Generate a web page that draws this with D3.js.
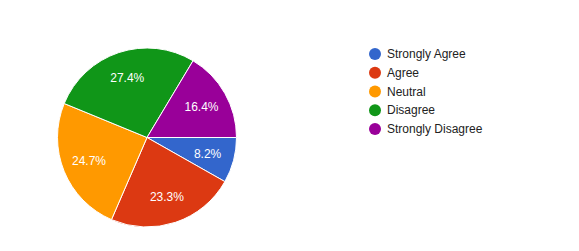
<!DOCTYPE html>
<html>
<head>
<meta charset="utf-8">
<script src="https://cdn.jsdelivr.net/npm/d3@7"></script>
<style>
  body { margin: 0; background: #fff; }
  svg { font-family: Arial, "Liberation Sans", sans-serif; }
</style>
</head>
<body>
<svg id="chart" width="579" height="251"></svg>
<script>
var categories = ["Strongly Agree", "Agree", "Neutral", "Disagree", "Strongly Disagree"];
var values = [8.2, 23.3, 24.7, 27.4, 16.4];
var colors = ["#3366cc", "#dc3912", "#ff9900", "#109618", "#990099"];

var svg = d3.select("#chart"),
    cx = 147, cy = 137.5, radius = 89.5;

var data = categories.map(function(c, i) { return {name: c, value: values[i]}; });

var color = d3.scaleOrdinal().domain(categories).range(colors);

// google style: start at 3 o'clock, clockwise
var pie = d3.pie()
    .value(function(d) { return d.value; })
    .sort(null)
    .startAngle(Math.PI / 2)
    .endAngle(Math.PI / 2 + 2 * Math.PI);

var arc = d3.arc().innerRadius(0).outerRadius(radius);
var labelArc = d3.arc().innerRadius(radius * 0.7).outerRadius(radius * 0.7);

var g = svg.append("g")
    .attr("transform", "translate(" + cx + "," + cy + ")");

var slices = g.selectAll(".slice")
    .data(pie(data))
  .enter().append("g")
    .attr("class", "slice");

slices.append("path")
    .attr("d", arc)
    .attr("fill", function(d) { return color(d.data.name); })
    .attr("stroke", "#fff")
    .attr("stroke-width", 1);

slices.append("text")
    .attr("transform", function(d) { return "translate(" + labelArc.centroid(d) + ")"; })
    .attr("dy", "0.35em")
    .attr("text-anchor", "middle")
    .attr("fill", "#fff")
    .style("font-size", "12px")
    .text(function(d) { return d.data.value.toFixed(1) + "%"; });

var legend = svg.append("g")
    .attr("transform", "translate(375,54)");

var item = legend.selectAll(".item")
    .data(categories)
  .enter().append("g")
    .attr("class", "item")
    .attr("transform", function(d, i) { return "translate(0," + (i * 18.75) + ")"; });

item.append("circle")
    .attr("r", 6)
    .attr("fill", function(d) { return color(d); });

item.append("text")
    .attr("x", 12)
    .attr("dy", "0.35em")
    .attr("fill", "#222")
    .style("font-size", "12px")
    .text(function(d) { return d; });
</script>
</body>
</html>
